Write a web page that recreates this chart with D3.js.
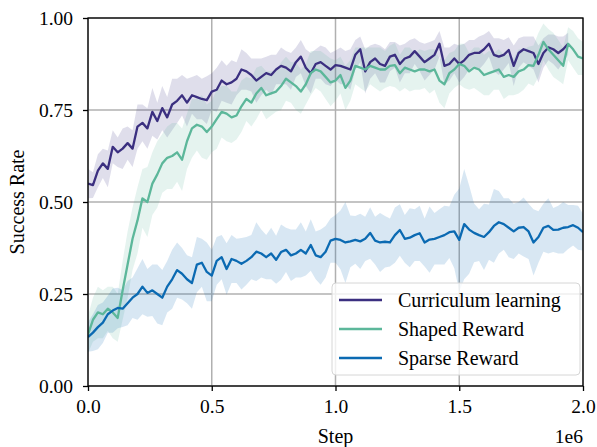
<!DOCTYPE html>
<meta charset="utf-8">
<style>
body { margin: 0; background: #fff; }
text { font-family: "Liberation Serif", "Times New Roman", serif; }
.grid line { stroke: #b0b0b0; stroke-width: 1.5px; }
</style>
<svg width="597" height="447"></svg>
<script src="https://d3js.org/d3.v7.min.js"></script>
<script>

// step grid is every 20000 steps, starting at 0
var stepSize = 20000;

var curriculum = [0.55,0.546,0.585,0.605,0.59,0.65,0.635,0.645,0.66,0.645,
  0.705,0.715,0.70,0.745,0.72,0.755,0.73,0.765,0.775,0.79,
  0.77,0.79,0.785,0.78,0.777,0.80,0.805,0.83,0.82,0.825,
  0.835,0.86,0.855,0.845,0.83,0.84,0.85,0.845,0.86,0.87,
  0.865,0.855,0.88,0.895,0.865,0.85,0.875,0.88,0.87,0.86,
  0.872,0.87,0.865,0.86,0.90,0.915,0.855,0.88,0.89,0.875,
  0.87,0.895,0.90,0.875,0.89,0.895,0.91,0.895,0.88,0.89,
  0.90,0.93,0.87,0.875,0.89,0.875,0.885,0.90,0.905,0.905,
  0.915,0.93,0.90,0.895,0.90,0.913,0.87,0.905,0.915,0.91,
  0.905,0.875,0.905,0.92,0.915,0.905,0.915,0.93];
var curriculumStd = [0.04,0.035,0.045,0.04,0.05,0.045,0.04,0.055,0.045,0.05,
  0.06,0.05,0.055,0.065,0.05,0.06,0.055,0.07,0.06,0.055,
  0.065,0.05,0.06,0.055,0.065,0.05,0.06,0.055,0.05,0.06,
  0.045,0.055,0.05,0.045,0.06,0.05,0.045,0.055,0.04,0.05,
  0.045,0.05,0.04,0.045,0.05,0.055,0.04,0.045,0.05,0.045,
  0.04,0.05,0.045,0.055,0.04,0.035,0.06,0.045,0.04,0.05,
  0.045,0.04,0.035,0.05,0.04,0.045,0.035,0.04,0.05,0.045,
  0.04,0.035,0.05,0.045,0.04,0.05,0.045,0.04,0.035,0.045,
  0.04,0.035,0.045,0.05,0.04,0.035,0.055,0.04,0.035,0.04,
  0.045,0.05,0.04,0.035,0.04,0.045,0.035,0.03];

var shaped = [0.14,0.18,0.20,0.195,0.21,0.20,0.185,0.26,0.33,0.40,
  0.45,0.51,0.50,0.55,0.575,0.605,0.62,0.625,0.635,0.615,
  0.665,0.70,0.71,0.705,0.69,0.705,0.725,0.745,0.74,0.73,
  0.735,0.76,0.78,0.77,0.795,0.81,0.79,0.795,0.80,0.815,
  0.835,0.825,0.815,0.80,0.82,0.85,0.86,0.855,0.84,0.825,
  0.83,0.845,0.81,0.83,0.87,0.865,0.86,0.87,0.865,0.86,
  0.86,0.87,0.872,0.85,0.865,0.86,0.855,0.86,0.86,0.855,
  0.86,0.83,0.82,0.85,0.86,0.875,0.87,0.855,0.865,0.86,
  0.845,0.85,0.855,0.86,0.84,0.845,0.84,0.855,0.86,0.872,
  0.87,0.90,0.935,0.915,0.90,0.885,0.87,0.93,0.915,0.895,
  0.89];
var shapedStd = [0.05,0.06,0.07,0.065,0.06,0.07,0.065,0.08,0.09,0.085,
  0.09,0.08,0.095,0.085,0.09,0.08,0.085,0.09,0.08,0.085,
  0.075,0.08,0.07,0.085,0.075,0.07,0.08,0.07,0.075,0.07,
  0.065,0.07,0.06,0.065,0.07,0.06,0.065,0.06,0.055,0.065,
  0.06,0.055,0.065,0.06,0.055,0.06,0.05,0.055,0.06,0.065,
  0.055,0.05,0.06,0.055,0.05,0.055,0.06,0.05,0.055,0.06,
  0.05,0.055,0.06,0.05,0.055,0.06,0.05,0.055,0.05,0.06,
  0.055,0.06,0.065,0.055,0.05,0.055,0.06,0.05,0.055,0.06,
  0.055,0.06,0.05,0.055,0.06,0.055,0.05,0.06,0.055,0.05,
  0.055,0.06,0.05,0.055,0.06,0.055,0.05,0.045,0.05,0.05,
  0.045];

var sparse = [0.133,0.145,0.16,0.172,0.195,0.205,0.212,0.21,0.225,0.24,
  0.25,0.27,0.253,0.26,0.25,0.24,0.27,0.29,0.315,0.305,
  0.29,0.28,0.33,0.335,0.31,0.30,0.34,0.35,0.318,0.345,
  0.34,0.332,0.34,0.35,0.365,0.36,0.35,0.36,0.343,0.364,
  0.37,0.355,0.36,0.37,0.36,0.383,0.355,0.35,0.365,0.395,
  0.40,0.397,0.39,0.393,0.397,0.393,0.40,0.416,0.395,0.39,
  0.392,0.39,0.41,0.424,0.40,0.403,0.41,0.415,0.39,0.398,
  0.40,0.405,0.41,0.418,0.42,0.397,0.44,0.425,0.416,0.41,
  0.405,0.418,0.435,0.445,0.44,0.43,0.42,0.43,0.432,0.42,
  0.39,0.405,0.43,0.435,0.424,0.425,0.43,0.432,0.437,0.43,
  0.418];
var sparseStd = [0.04,0.05,0.06,0.055,0.05,0.06,0.055,0.05,0.06,0.055,
  0.07,0.075,0.065,0.07,0.08,0.075,0.07,0.08,0.075,0.07,
  0.065,0.07,0.075,0.065,0.08,0.07,0.065,0.06,0.07,0.065,
  0.06,0.07,0.065,0.06,0.08,0.065,0.06,0.07,0.065,0.075,
  0.06,0.07,0.065,0.075,0.06,0.07,0.065,0.075,0.07,0.06,
  0.065,0.08,0.11,0.07,0.065,0.075,0.06,0.07,0.065,0.08,
  0.07,0.065,0.075,0.07,0.065,0.08,0.07,0.075,0.065,0.09,
  0.07,0.075,0.08,0.07,0.1,0.14,0.15,0.12,0.08,0.07,
  0.09,0.075,0.1,0.085,0.07,0.08,0.075,0.07,0.08,0.075,
  0.09,0.07,0.065,0.075,0.06,0.065,0.07,0.06,0.055,0.06,
  0.05];

var seriesNames = ["Curriculum learning", "Shaped Reward", "Sparse Reward"];
var seriesColors = ["#3b2f80", "#5cb79a", "#0b6ab2"];
var xTicks = [0, 0.5e6, 1e6, 1.5e6, 2e6];
var yTicks = [0, 0.25, 0.5, 0.75, 1.0];

var svg = d3.select("svg"),
    margin = {top: 18, right: 14, bottom: 61, left: 88},
    width = +svg.attr("width") - margin.left - margin.right,
    height = +svg.attr("height") - margin.top - margin.bottom;

var x = d3.scaleLinear().domain([0, 2e6]).range([0, width]);
var y = d3.scaleLinear().domain([0, 1]).range([height, 0]);

var g = svg.append("g").attr("transform", "translate(" + margin.left + "," + margin.top + ")");

g.append("g").attr("class", "grid")
  .selectAll("line").data(xTicks).enter().append("line")
    .attr("x1", x).attr("x2", x).attr("y1", 0).attr("y2", height);
g.append("g").attr("class", "grid")
  .selectAll("line").data(yTicks).enter().append("line")
    .attr("y1", y).attr("y2", y).attr("x1", 0).attr("x2", width);

var series = [
  {name: seriesNames[0], color: seriesColors[0], mean: curriculum, std: curriculumStd},
  {name: seriesNames[1], color: seriesColors[1], mean: shaped, std: shapedStd},
  {name: seriesNames[2], color: seriesColors[2], mean: sparse, std: sparseStd}
];

var area = d3.area()
    .x(function(d, i) { return x(i * stepSize); })
    .y0(function(d) { return y(d[0] - d[1]); })
    .y1(function(d) { return y(d[0] + d[1]); });

var line = d3.line()
    .x(function(d, i) { return x(i * stepSize); })
    .y(function(d) { return y(d); });

g.append("defs").append("clipPath").attr("id", "clip")
  .append("rect").attr("width", width).attr("height", height);

var plot = g.append("g").attr("clip-path", "url(#clip)");

series.forEach(function(s) {
  plot.append("path")
    .datum(s.mean.map(function(m, i) { return [m, s.std[i]]; }))
    .attr("fill", s.color)
    .attr("fill-opacity", 0.16)
    .attr("d", area);
});

series.forEach(function(s) {
  plot.append("path")
    .datum(s.mean)
    .attr("fill", "none")
    .attr("stroke", s.color)
    .attr("stroke-width", 2.3)
    .attr("stroke-linejoin", "round")
    .attr("d", line);
});

// frame
g.append("rect").attr("width", width).attr("height", height)
  .attr("fill", "none").attr("stroke", "#000").attr("stroke-width", 1.3);

var xAxis = g.append("g").attr("transform", "translate(0," + height + ")")
  .call(d3.axisBottom(x).tickValues(xTicks).tickSize(5).tickPadding(8)
    .tickFormat(function(d) { return (d / 1e6).toFixed(1); }));
var yAxis = g.append("g")
  .call(d3.axisLeft(y).tickValues(yTicks).tickSize(5).tickPadding(10)
    .tickFormat(d3.format(".2f")));

[xAxis, yAxis].forEach(function(a) {
  a.select(".domain").remove();
  a.selectAll(".tick line").attr("stroke", "#000").attr("stroke-width", 1.3);
  a.selectAll("text").attr("fill", "#000").style("font-size", "19.5px")
    .style("font-family", "'Liberation Serif', serif");
});

g.append("text").attr("x", width / 2).attr("y", height + 57)
  .attr("text-anchor", "middle").style("font-size", "20px").text("Step");
g.append("text").attr("x", width).attr("y", height + 57)
  .attr("text-anchor", "end").style("font-size", "19.5px").text("1e6");
g.append("text").attr("transform", "translate(-64," + (height / 2) + ") rotate(-90)")
  .attr("text-anchor", "middle").style("font-size", "20px").text("Success Rate");

// legend
var legend = g.append("g").attr("transform", "translate(" + (width - 251) + "," + (height - 103) + ")");
legend.append("rect").attr("width", 248).attr("height", 92).attr("rx", 4)
  .attr("fill", "#fff").attr("fill-opacity", 0.8)
  .attr("stroke", "#d6d6d6").attr("stroke-width", 1);
series.forEach(function(s, i) {
  var row = legend.append("g").attr("transform", "translate(0," + (17 + i * 29) + ")");
  row.append("line").attr("x1", 7).attr("x2", 50)
    .attr("stroke", s.color).attr("stroke-width", 2.3);
  row.append("text").attr("x", 66).attr("y", 7).style("font-size", "20px").text(s.name);
});

</script>
